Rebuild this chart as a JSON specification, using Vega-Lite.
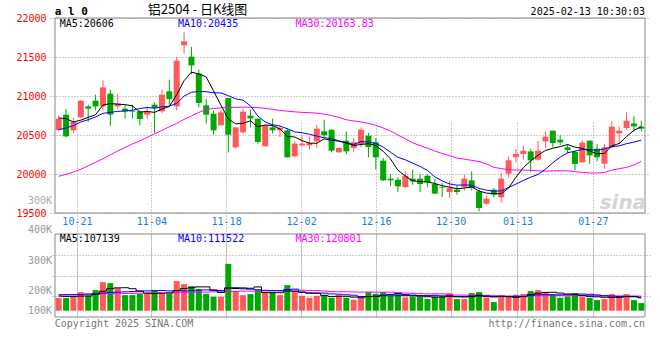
{
"$schema": "https://vega.github.io/schema/vega-lite/v6.json",
"autosize": {"type": "none"},
"padding": {"left": 50, "top": 18, "right": 10, "bottom": 43},
"background": "white",
"width": 600,
"height": 299,
"config": {
  "view": {"stroke": null},
  "axis": {"labelFont": "DejaVu Sans Mono", "labelFontSize": 10, "gridDash": [1, 2], "gridColor": "#999999", "gridOpacity": 1, "ticks": false, "domain": false, "labelOverlap": false, "labelFlush": false},
  "text": {"font": "DejaVu Sans Mono", "fontSize": 10}
},
"data": {"values": [
{"d":"10-16","i":0,"o":20564,"h":20752,"l":20547,"c":20709,"m5":20718,"m10":20568,"m30":19970,"v":104500,"v5":121000,"v10":132000,"v30":132000},
{"d":"10-17","i":1,"o":20761,"h":20833,"l":20470,"c":20483,"m5":20709,"m10":20590,"m30":19995,"v":104500,"v5":118250,"v10":132000,"v30":132000},
{"d":"10-18","i":2,"o":20560,"h":20718,"l":20525,"c":20667,"m5":20667,"m10":20620,"m30":20025,"v":123750,"v5":118250,"v10":132000,"v30":134750},
{"d":"10-21","i":3,"o":20726,"h":20945,"l":20720,"c":20940,"m5":20690,"m10":20667,"m30":20060,"v":154000,"v5":121000,"v10":134750,"v30":134750},
{"d":"10-22","i":4,"o":20867,"h":20889,"l":20667,"c":20837,"m5":20727,"m10":20696,"m30":20105,"v":123750,"v5":122100,"v10":137500,"v30":137500},
{"d":"10-23","i":5,"o":20940,"h":21017,"l":20816,"c":20867,"m5":20759,"m10":20731,"m30":20150,"v":170500,"v5":135300,"v10":140250,"v30":137500},
{"d":"10-24","i":6,"o":20867,"h":21200,"l":20816,"c":21111,"m5":20884,"m10":20778,"m30":20195,"v":236500,"v5":161700,"v10":145750,"v30":140250},
{"d":"10-25","i":7,"o":21030,"h":21081,"l":20611,"c":20761,"m5":20903,"m10":20790,"m30":20245,"v":228250,"v5":182600,"v10":151250,"v30":140250},
{"d":"10-28","i":8,"o":20867,"h":21030,"l":20833,"c":20902,"m5":20896,"m10":20803,"m30":20295,"v":187000,"v5":189200,"v10":154000,"v30":143000},
{"d":"10-29","i":9,"o":20837,"h":20889,"l":20709,"c":20803,"m5":20889,"m10":20808,"m30":20340,"v":129250,"v5":190300,"v10":156200,"v30":143000},
{"d":"10-30","i":10,"o":20803,"h":20889,"l":20709,"c":20795,"m5":20874,"m10":20817,"m30":20385,"v":129250,"v5":182050,"v10":158675,"v30":143000},
{"d":"10-31","i":11,"o":20803,"h":20816,"l":20624,"c":20705,"m5":20793,"m10":20839,"m30":20425,"v":140250,"v5":162800,"v10":162250,"v30":145750},
{"d":"11-01","i":12,"o":20761,"h":20867,"l":20709,"c":20803,"m5":20802,"m10":20852,"m30":20470,"v":140250,"v5":145200,"v10":163900,"v30":145750},
{"d":"11-04","i":13,"o":20889,"h":20919,"l":20525,"c":20846,"m5":20790,"m10":20843,"m30":20515,"v":170500,"v5":141900,"v10":165550,"v30":145750},
{"d":"11-05","i":14,"o":20803,"h":21081,"l":20782,"c":21017,"m5":20833,"m10":20861,"m30":20560,"v":140250,"v5":144100,"v10":167200,"v30":148500},
{"d":"11-06","i":15,"o":21060,"h":21209,"l":20889,"c":20961,"m5":20866,"m10":20870,"m30":20605,"v":140250,"v5":146300,"v10":164175,"v30":148500},
{"d":"11-07","i":16,"o":20867,"h":21500,"l":20816,"c":21453,"m5":21016,"m10":20905,"m30":20650,"v":244750,"v5":167200,"v10":165000,"v30":151250},
{"d":"11-08","i":17,"o":21650,"h":21820,"l":21543,"c":21701,"m5":21196,"m10":20999,"m30":20700,"v":220000,"v5":183150,"v10":164175,"v30":151250},
{"d":"11-11","i":18,"o":21504,"h":21628,"l":21282,"c":21393,"m5":21305,"m10":21048,"m30":20745,"v":203500,"v5":189750,"v10":165825,"v30":154000},
{"d":"11-12","i":19,"o":21286,"h":21337,"l":20855,"c":20910,"m5":21284,"m10":21058,"m30":20790,"v":178750,"v5":197450,"v10":170775,"v30":154000},
{"d":"11-13","i":20,"o":20880,"h":20966,"l":20645,"c":20761,"m5":21244,"m10":21055,"m30":20825,"v":140250,"v5":197450,"v10":171875,"v30":154000},
{"d":"11-14","i":21,"o":20773,"h":20816,"l":20504,"c":20560,"m5":21065,"m10":21041,"m30":20840,"v":115500,"v5":171600,"v10":169400,"v30":156750},
{"d":"11-15","i":22,"o":20624,"h":20825,"l":20624,"c":20790,"m5":20883,"m10":21039,"m30":20848,"v":115500,"v5":150700,"v10":166925,"v30":156750},
{"d":"11-18","i":23,"o":20974,"h":20974,"l":20278,"c":20504,"m5":20705,"m10":21005,"m30":20852,"v":387750,"v5":187550,"v10":188650,"v30":159500},
{"d":"11-19","i":24,"o":20342,"h":20598,"l":20325,"c":20598,"m5":20643,"m10":20963,"m30":20855,"v":159500,"v5":183700,"v10":190575,"v30":159500},
{"d":"11-20","i":25,"o":20534,"h":20837,"l":20517,"c":20799,"m5":20650,"m10":20947,"m30":20857,"v":129250,"v5":181500,"v10":189475,"v30":162250},
{"d":"11-21","i":26,"o":20748,"h":20825,"l":20598,"c":20713,"m5":20681,"m10":20873,"m30":20855,"v":137500,"v5":185900,"v10":178750,"v30":162250},
{"d":"11-22","i":27,"o":20709,"h":20709,"l":20389,"c":20410,"m5":20605,"m10":20744,"m30":20850,"v":170500,"v5":196900,"v10":173800,"v30":162250},
{"d":"11-25","i":28,"o":20355,"h":20624,"l":20355,"c":20624,"m5":20629,"m10":20667,"m30":20842,"v":154000,"v5":150150,"v10":168850,"v30":163625},
{"d":"11-26","i":29,"o":20598,"h":20709,"l":20517,"c":20560,"m5":20621,"m10":20632,"m30":20830,"v":154000,"v5":149050,"v10":166375,"v30":164450},
{"d":"11-27","i":30,"o":20560,"h":20620,"l":20474,"c":20590,"m5":20579,"m10":20615,"m30":20815,"v":129250,"v5":149050,"v10":165275,"v30":165275},
{"d":"11-28","i":31,"o":20560,"h":20590,"l":20214,"c":20214,"m5":20480,"m10":20580,"m30":20805,"v":211750,"v5":163900,"v10":174900,"v30":168850},
{"d":"11-29","i":32,"o":20226,"h":20419,"l":20214,"c":20389,"m5":20475,"m10":20540,"m30":20797,"v":154000,"v5":160600,"v10":178750,"v30":169950},
{"d":"12-02","i":33,"o":20367,"h":20483,"l":20355,"c":20389,"m5":20428,"m10":20529,"m30":20790,"v":123750,"v5":154550,"v10":152350,"v30":168850},
{"d":"12-03","i":34,"o":20367,"h":20483,"l":20312,"c":20397,"m5":20396,"m10":20509,"m30":20786,"v":107250,"v5":145200,"v10":147125,"v30":168300},
{"d":"12-04","i":35,"o":20419,"h":20632,"l":20333,"c":20581,"m5":20394,"m10":20487,"m30":20780,"v":123750,"v5":144100,"v10":146575,"v30":166650},
{"d":"12-05","i":36,"o":20547,"h":20696,"l":20474,"c":20496,"m5":20450,"m10":20465,"m30":20768,"v":129250,"v5":127600,"v10":145750,"v30":163075},
{"d":"12-06","i":37,"o":20568,"h":20568,"l":20278,"c":20299,"m5":20432,"m10":20454,"m30":20750,"v":107250,"v5":118250,"v10":139425,"v30":159225},
{"d":"12-09","i":38,"o":20278,"h":20342,"l":20269,"c":20333,"m5":20421,"m10":20425,"m30":20725,"v":129250,"v5":119350,"v10":136950,"v30":157300},
{"d":"12-10","i":39,"o":20427,"h":20547,"l":20256,"c":20290,"m5":20400,"m10":20398,"m30":20695,"v":107250,"v5":119350,"v10":132275,"v30":156475},
{"d":"12-11","i":40,"o":20333,"h":20461,"l":20282,"c":20406,"m5":20365,"m10":20379,"m30":20680,"v":90750,"v5":112750,"v10":128425,"v30":155100},
{"d":"12-12","i":41,"o":20384,"h":20598,"l":20342,"c":20568,"m5":20379,"m10":20415,"m30":20668,"v":104500,"v5":107800,"v10":117700,"v30":154000},
{"d":"12-13","i":42,"o":20491,"h":20526,"l":20214,"c":20346,"m5":20389,"m10":20411,"m30":20650,"v":154000,"v5":117150,"v10":117700,"v30":154550},
{"d":"12-16","i":43,"o":20406,"h":20461,"l":20055,"c":20214,"m5":20365,"m10":20393,"m30":20625,"v":140250,"v5":119350,"v10":119350,"v30":153450},
{"d":"12-17","i":44,"o":20171,"h":20205,"l":19906,"c":19919,"m5":20291,"m10":20345,"m30":20590,"v":154000,"v5":128700,"v10":124025,"v30":154000},
{"d":"12-18","i":45,"o":19940,"h":20000,"l":19842,"c":19919,"m5":20193,"m10":20279,"m30":20550,"v":123750,"v5":135300,"v10":124025,"v30":153450},
{"d":"12-19","i":46,"o":19927,"h":19957,"l":19769,"c":19842,"m5":20048,"m10":20214,"m30":20500,"v":137500,"v5":141900,"v10":124850,"v30":149875},
{"d":"12-20","i":47,"o":19833,"h":20034,"l":19820,"c":19978,"m5":19974,"m10":20182,"m30":20450,"v":110000,"v5":133100,"v10":125125,"v30":146025},
{"d":"12-23","i":48,"o":19940,"h":20055,"l":19863,"c":19906,"m5":19913,"m10":20139,"m30":20400,"v":118250,"v5":128700,"v10":124025,"v30":143275},
{"d":"12-24","i":49,"o":19940,"h":20000,"l":19769,"c":19872,"m5":19903,"m10":20097,"m30":20365,"v":118250,"v5":121550,"v10":125125,"v30":141350},
{"d":"12-25","i":50,"o":19978,"h":19991,"l":19829,"c":19893,"m5":19898,"m10":20046,"m30":20330,"v":96250,"v5":116050,"v10":125675,"v30":139700},
{"d":"12-26","i":51,"o":19872,"h":19936,"l":19748,"c":19748,"m5":19879,"m10":19964,"m30":20295,"v":118250,"v5":112200,"v10":127050,"v30":139975},
{"d":"12-27","i":52,"o":19833,"h":19884,"l":19705,"c":19825,"m5":19849,"m10":19912,"m30":20262,"v":118250,"v5":113850,"v10":123475,"v30":139975},
{"d":"12-30","i":53,"o":19769,"h":19914,"l":19692,"c":19820,"m5":19832,"m10":19872,"m30":20235,"v":145750,"v5":119350,"v10":124025,"v30":132000},
{"d":"12-31","i":54,"o":19799,"h":19850,"l":19735,"c":19769,"m5":19811,"m10":19857,"m30":20205,"v":96250,"v5":114950,"v10":118250,"v30":129800},
{"d":"01-02","i":55,"o":19833,"h":19991,"l":19786,"c":19940,"m5":19820,"m10":19859,"m30":20190,"v":96250,"v5":114950,"v10":115500,"v30":128700},
{"d":"01-03","i":56,"o":19919,"h":20034,"l":19790,"c":19820,"m5":19835,"m10":19857,"m30":20175,"v":145750,"v5":120450,"v10":116325,"v30":128975},
{"d":"01-06","i":57,"o":19778,"h":19799,"l":19521,"c":19564,"m5":19783,"m10":19816,"m30":20160,"v":154000,"v5":127600,"v10":120725,"v30":128425},
{"d":"01-07","i":58,"o":19619,"h":19722,"l":19607,"c":19683,"m5":19755,"m10":19793,"m30":20130,"v":110000,"v5":120450,"v10":119900,"v30":127050},
{"d":"01-08","i":59,"o":19799,"h":19820,"l":19701,"c":19735,"m5":19748,"m10":19780,"m30":20085,"v":71500,"v5":115500,"v10":115225,"v30":124300},
{"d":"01-09","i":60,"o":19701,"h":20013,"l":19637,"c":19940,"m5":19748,"m10":19784,"m30":20070,"v":118250,"v5":119900,"v10":117425,"v30":123750},
{"d":"01-10","i":61,"o":20004,"h":20226,"l":19957,"c":20175,"m5":19819,"m10":19827,"m30":20055,"v":123750,"v5":115500,"v10":117975,"v30":121000},
{"d":"01-13","i":62,"o":20214,"h":20320,"l":20149,"c":20256,"m5":19958,"m10":19870,"m30":20052,"v":132000,"v5":111100,"v10":119350,"v30":120175},
{"d":"01-14","i":63,"o":20256,"h":20363,"l":20184,"c":20299,"m5":20081,"m10":19918,"m30":20050,"v":137500,"v5":116600,"v10":118525,"v30":120725},
{"d":"01-15","i":64,"o":20290,"h":20325,"l":20025,"c":20175,"m5":20169,"m10":19959,"m30":20048,"v":162250,"v5":134750,"v10":125125,"v30":122375},
{"d":"01-16","i":65,"o":20184,"h":20427,"l":20171,"c":20299,"m5":20241,"m10":19995,"m30":20040,"v":170500,"v5":145200,"v10":132550,"v30":124025},
{"d":"01-17","i":66,"o":20419,"h":20547,"l":20333,"c":20479,"m5":20302,"m10":20061,"m30":20036,"v":154000,"v5":151250,"v10":133375,"v30":124850},
{"d":"01-20","i":67,"o":20555,"h":20555,"l":20342,"c":20397,"m5":20330,"m10":20144,"m30":20040,"v":137500,"v5":152350,"v10":131725,"v30":125950},
{"d":"01-21","i":68,"o":20440,"h":20496,"l":20367,"c":20406,"m5":20351,"m10":20216,"m30":20043,"v":107250,"v5":146300,"v10":131450,"v30":125125},
{"d":"01-22","i":69,"o":20342,"h":20376,"l":20265,"c":20308,"m5":20378,"m10":20273,"m30":20040,"v":118250,"v5":137500,"v10":136125,"v30":125400},
{"d":"01-23","i":70,"o":20282,"h":20299,"l":20047,"c":20128,"m5":20344,"m10":20292,"m30":20030,"v":145750,"v5":132550,"v10":138875,"v30":127325},
{"d":"01-24","i":71,"o":20149,"h":20427,"l":20149,"c":20402,"m5":20328,"m10":20315,"m30":20020,"v":115500,"v5":124850,"v10":138050,"v30":127600},
{"d":"01-27","i":72,"o":20427,"h":20427,"l":20132,"c":20239,"m5":20297,"m10":20313,"m30":20013,"v":107250,"v5":118800,"v10":135575,"v30":126225},
{"d":"02-05","i":73,"o":20325,"h":20384,"l":20162,"c":20214,"m5":20258,"m10":20305,"m30":20013,"v":88000,"v5":114950,"v10":130625,"v30":124300},
{"d":"02-06","i":74,"o":20132,"h":20384,"l":20068,"c":20342,"m5":20265,"m10":20321,"m30":20020,"v":96250,"v5":111650,"v10":124575,"v30":122375},
{"d":"02-07","i":75,"o":20342,"h":20675,"l":20333,"c":20607,"m5":20361,"m10":20352,"m30":20050,"v":137500,"v5":110000,"v10":121275,"v30":122925},
{"d":"02-10","i":76,"o":20521,"h":20611,"l":20384,"c":20555,"m5":20391,"m10":20360,"m30":20068,"v":118250,"v5":110550,"v10":117700,"v30":122375},
{"d":"02-11","i":77,"o":20590,"h":20790,"l":20568,"c":20684,"m5":20480,"m10":20389,"m30":20085,"v":137500,"v5":116600,"v10":117700,"v30":123200},
{"d":"02-12","i":78,"o":20649,"h":20739,"l":20547,"c":20611,"m5":20560,"m10":20409,"m30":20115,"v":88000,"v5":116600,"v10":115775,"v30":122100},
{"d":"02-13","i":79,"o":20607,"h":20684,"l":20547,"c":20581,"m5":20606,"m10":20435,"m30":20164,"v":63250,"v5":107139,"v10":111522,"v30":120801}
]},
"resolve": {"scale": {"x": "independent", "y": "independent"}, "axis": {"x": "independent", "y": "independent"}},
"layer": [
{
  "layer": [
    {"mark": {"type": "rule", "strokeWidth": 1},
     "encoding": {
       "x": {"field": "i", "type": "quantitative", "scale": {"domain": [-0.5, 79.5], "nice": false, "zero": false},
             "axis": {"orient": "bottom", "offset": -104, "values": [2.47, 12.57, 22.7, 32.87, 43.01, 53.14, 62.21, 72.43], "grid": true, "title": null, "labelColor": "#1a7fd0", "labelPadding": 3,
                      "labelExpr": "datum.value < 5 ? '10-21' : datum.value < 15 ? '11-04' : datum.value < 25 ? '11-18' : datum.value < 35 ? '12-02' : datum.value < 45 ? '12-16' : datum.value < 55 ? '12-30' : datum.value < 65 ? '01-13' : '01-27'"}},
       "y": {"field": "l", "type": "quantitative", "scale": {"domain": [19500, 22000], "range": [195, 0], "nice": false, "zero": false},
             "axis": {"orient": "left", "values": [19500, 20000, 20500, 21000, 21500, 22000], "format": "d", "grid": true, "title": null, "labelColor": "#ff0000", "labelPadding": 4}},
       "y2": {"field": "h"},
       "color": {"condition": {"test": "datum.c >= datum.o", "value": "#ff5a5a"}, "value": "#00a800"}
     }},
    {"mark": {"type": "bar", "size": 6},
     "encoding": {
       "x": {"field": "i", "type": "quantitative"},
       "y": {"field": "o", "type": "quantitative"},
       "y2": {"field": "c"},
       "color": {"condition": {"test": "datum.c >= datum.o", "value": "#ff5a5a"}, "value": "#00a800"}
     }},
    {"mark": {"type": "line", "color": "#ff00ff", "strokeWidth": 1},
     "encoding": {"x": {"field": "i", "type": "quantitative"}, "y": {"field": "m30", "type": "quantitative"}}},
    {"mark": {"type": "line", "color": "#0000ff", "strokeWidth": 1},
     "encoding": {"x": {"field": "i", "type": "quantitative"}, "y": {"field": "m10", "type": "quantitative"}}},
    {"mark": {"type": "line", "color": "#000000", "strokeWidth": 1},
     "encoding": {"x": {"field": "i", "type": "quantitative"}, "y": {"field": "m5", "type": "quantitative"}}},
    {"data": {"values": [{}]}, "mark": {"type": "rect", "fill": "transparent", "stroke": "#888888", "strokeWidth": 1},
     "encoding": {"x": {"datum": -0.5, "type": "quantitative"}, "x2": {"datum": 79.5}, "y": {"datum": 19500, "type": "quantitative"}, "y2": {"datum": 22000}}},
    {"data": {"values": [{}]}, "mark": {"type": "text", "align": "left", "baseline": "middle", "color": "#000000"},
     "encoding": {"x": {"datum": 0.13, "type": "quantitative"}, "y": {"datum": 21923, "type": "quantitative"}, "text": {"value": "MA5:20606"}}},
    {"data": {"values": [{}]}, "mark": {"type": "text", "align": "left", "baseline": "middle", "color": "#0000ff"},
     "encoding": {"x": {"datum": 16.17, "type": "quantitative"}, "y": {"datum": 21923, "type": "quantitative"}, "text": {"value": "MA10:20435"}}},
    {"data": {"values": [{}]}, "mark": {"type": "text", "align": "left", "baseline": "middle", "color": "#ff00ff"},
     "encoding": {"x": {"datum": 32.1, "type": "quantitative"}, "y": {"datum": 21923, "type": "quantitative"}, "text": {"value": "MA30:20163.83"}}},
    {"data": {"values": [{}]}, "mark": {"type": "text", "align": "left", "baseline": "middle", "color": "#000000", "fontWeight": "bold", "fontSize": 11},
     "encoding": {"x": {"datum": -0.53, "type": "quantitative"}, "y": {"datum": 22077, "type": "quantitative"}, "text": {"value": "a l 0"}}},
    {"data": {"values": [{}]}, "mark": {"type": "text", "align": "center", "baseline": "middle", "color": "#000000", "font": "Noto Sans CJK SC", "fontSize": 13},
     "encoding": {"x": {"datum": 18.83, "type": "quantitative"}, "y": {"datum": 22103, "type": "quantitative"}, "text": {"value": "铝2504 - 日K线图"}}},
    {"data": {"values": [{}]}, "mark": {"type": "text", "align": "right", "baseline": "middle", "color": "#000000"},
     "encoding": {"x": {"datum": 79.5, "type": "quantitative"}, "y": {"datum": 22077, "type": "quantitative"}, "text": {"value": "2025-02-13 10:30:03"}}},
    {"data": {"values": [{}]}, "mark": {"type": "text", "align": "right", "baseline": "middle", "color": "#aaaaaa"},
     "encoding": {"x": {"datum": -0.9, "type": "quantitative"}, "y": {"datum": 19654, "type": "quantitative"}, "text": {"value": "300K"}}},
    {"data": {"values": [{}]}, "mark": {"type": "text", "align": "center", "baseline": "middle", "color": "#d4d4d4", "font": "DejaVu Sans", "fontSize": 20, "fontWeight": "bold", "fontStyle": "italic"},
     "encoding": {"x": {"datum": 76.5, "type": "quantitative"}, "y": {"datum": 19628, "type": "quantitative"}, "text": {"value": "sina"}}}
  ]
},
{
  "layer": [
    {"mark": {"type": "bar", "size": 6},
     "encoding": {
       "x": {"field": "i", "type": "quantitative", "scale": {"domain": [-0.5, 79.5], "nice": false, "zero": false},
             "axis": {"orient": "top", "values": [2.47, 12.57, 22.7, 32.87, 43.01, 53.14, 62.21, 72.43], "grid": true, "labels": false, "title": null}},
       "y": {"field": "v", "type": "quantitative", "scale": {"domain": [-52000, 635000], "range": [299, 216], "nice": false, "zero": false},
             "axis": {"orient": "right", "values": [121000, 289900, 458700], "grid": true, "labels": false, "title": null}},
       "y2": {"datum": 0},
       "color": {"condition": {"test": "datum.c >= datum.o", "value": "#ff5a5a"}, "value": "#00a800"}
     }},
    {"mark": {"type": "line", "color": "#ff00ff", "strokeWidth": 1, "interpolate": "step"},
     "encoding": {"x": {"field": "i", "type": "quantitative"}, "y": {"field": "v30", "type": "quantitative"}}},
    {"mark": {"type": "line", "color": "#0000ff", "strokeWidth": 1, "interpolate": "step"},
     "encoding": {"x": {"field": "i", "type": "quantitative"}, "y": {"field": "v10", "type": "quantitative"}}},
    {"mark": {"type": "line", "color": "#000000", "strokeWidth": 1, "interpolate": "step"},
     "encoding": {"x": {"field": "i", "type": "quantitative"}, "y": {"field": "v5", "type": "quantitative"}}},
    {"data": {"values": [{}]}, "mark": {"type": "rect", "fill": "transparent", "stroke": "#888888", "strokeWidth": 1},
     "encoding": {"x": {"datum": -0.5, "type": "quantitative"}, "x2": {"datum": 79.5}, "y": {"datum": -52000, "type": "quantitative"}, "y2": {"datum": 635000}}},
    {"data": {"values": [{}]}, "mark": {"type": "text", "align": "left", "baseline": "middle", "color": "#000000"},
     "encoding": {"x": {"datum": 0.13, "type": "quantitative"}, "y": {"datum": 596100, "type": "quantitative"}, "text": {"value": "MA5:107139"}}},
    {"data": {"values": [{}]}, "mark": {"type": "text", "align": "left", "baseline": "middle", "color": "#0000ff"},
     "encoding": {"x": {"datum": 16.17, "type": "quantitative"}, "y": {"datum": 596100, "type": "quantitative"}, "text": {"value": "MA10:111522"}}},
    {"data": {"values": [{}]}, "mark": {"type": "text", "align": "left", "baseline": "middle", "color": "#ff00ff"},
     "encoding": {"x": {"datum": 32.1, "type": "quantitative"}, "y": {"datum": 596100, "type": "quantitative"}, "text": {"value": "MA30:120801"}}},
    {"data": {"values": [{}]}, "mark": {"type": "text", "align": "right", "baseline": "middle", "color": "#999999"},
     "encoding": {"x": {"datum": -0.9, "type": "quantitative"}, "y": {"datum": 668100, "type": "quantitative"}, "text": {"value": "400K"}}},
    {"data": {"values": [{}]}, "mark": {"type": "text", "align": "right", "baseline": "middle", "color": "#999999"},
     "encoding": {"x": {"datum": -0.9, "type": "quantitative"}, "y": {"datum": 414000, "type": "quantitative"}, "text": {"value": "300K"}}},
    {"data": {"values": [{}]}, "mark": {"type": "text", "align": "right", "baseline": "middle", "color": "#999999"},
     "encoding": {"x": {"datum": -0.9, "type": "quantitative"}, "y": {"datum": 165700, "type": "quantitative"}, "text": {"value": "200K"}}},
    {"data": {"values": [{}]}, "mark": {"type": "text", "align": "right", "baseline": "middle", "color": "#999999"},
     "encoding": {"x": {"datum": -0.9, "type": "quantitative"}, "y": {"datum": 0, "type": "quantitative"}, "text": {"value": "100K"}}},
    {"data": {"values": [{}]}, "mark": {"type": "text", "align": "left", "baseline": "middle", "color": "#777777"},
     "encoding": {"x": {"datum": -0.53, "type": "quantitative"}, "y": {"datum": -106000, "type": "quantitative"}, "text": {"value": "Copyright 2025 SINA.COM"}}},
    {"data": {"values": [{}]}, "mark": {"type": "text", "align": "right", "baseline": "middle", "color": "#777777"},
     "encoding": {"x": {"datum": 79.5, "type": "quantitative"}, "y": {"datum": -106000, "type": "quantitative"}, "text": {"value": "http://finance.sina.com.cn"}}}
  ]
}
]
}
